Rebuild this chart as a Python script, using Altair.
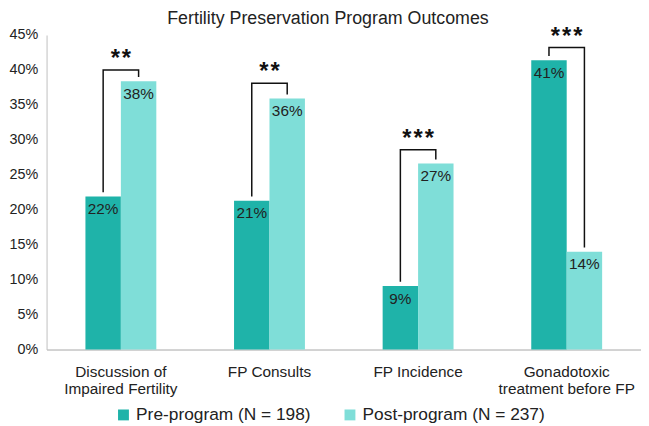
import altair as alt
import pandas as pd

categories = ["Discussion of Impaired Fertility", "FP Consults", "FP Incidence", "Gonadotoxic treatment before FP"]
cat_lines = [["Discussion of", "Impaired Fertility"], ["FP Consults"], ["FP Incidence"], ["Gonadotoxic", "treatment before FP"]]
series = ["Pre-program (N = 198)", "Post-program (N = 237)"]
pre_values = [21.9, 21.3, 9.1, 41.4]
post_values = [38.4, 35.9, 26.6, 14.0]
pre_labels = ["22%", "21%", "9%", "41%"]
post_labels = ["38%", "36%", "27%", "14%"]
bracket_top = [40.0, 38.1, 28.6, 43.2]
stars = ["**", "**", "***", "***"]
y_ticks = [0, 5, 10, 15, 20, 25, 30, 35, 40, 45]
gap = 0.6

colors = ["#1fb3a9", "#7fded8"]
FONT = "Liberation Sans"

rows = []
for i, c in enumerate(categories):
    rows.append({"cat": c, "series": series[0], "value": pre_values[i], "label": pre_labels[i]})
    rows.append({"cat": c, "series": series[1], "value": post_values[i], "label": post_labels[i]})
bars_df = pd.DataFrame(rows)

br = []
for i, c in enumerate(categories):
    pts = [(series[0], pre_values[i] + gap), (series[0], bracket_top[i]),
           (series[1], bracket_top[i]), (series[1], post_values[i] + gap)]
    for k, (s, v) in enumerate(pts):
        br.append({"cat": c, "series": s, "value": v, "order": k, "grp": i})
br_df = pd.DataFrame(br)

star_df = pd.DataFrame({"cat": categories, "value": bracket_top,
                        "stars": ["\u200a".join(s) for s in stars]})

label_expr = "{" + ",".join(
    f"'{c}': [" + ",".join(f"'{l}'" for l in lines) + "]" for c, lines in zip(categories, cat_lines)
) + "}[datum.value]"

x = alt.X("cat:N", sort=categories, title=None,
          scale=alt.Scale(paddingInner=0.523, paddingOuter=0.2615),
          axis=alt.Axis(labelExpr=label_expr, labelAngle=0, labelFontSize=15.5, labelColor="#222",
                        labelPadding=15, ticks=False, domainColor="#a6a6a6", labelLineHeight=17,
                        labelFont=FONT))
xo = alt.XOffset("series:N", sort=series, scale=alt.Scale(paddingInner=0, paddingOuter=0))
y = alt.Y("value:Q", title=None,
          scale=alt.Scale(domain=[0, 45], nice=False),
          axis=alt.Axis(values=y_ticks, labelExpr="datum.value + '%'", labelOverlap=False,
                        grid=False, ticks=False, domainColor="#bfbfbf", labelFontSize=14.5,
                        labelColor="#222", labelPadding=9, labelFont=FONT))

bars = alt.Chart(bars_df).mark_bar().encode(
    x=x, xOffset=xo, y=y,
    color=alt.Color("series:N", sort=series, scale=alt.Scale(domain=series, range=colors),
                    legend=alt.Legend(title=None, orient="none", direction="horizontal",
                                      legendX=69, legendY=375, symbolType="square",
                                      symbolSize=121, symbolStrokeWidth=0, labelFontSize=17.5,
                                      labelColor="#222", labelFont=FONT, labelLimit=400,
                                      columnPadding=30, symbolOffset=0, labelOffset=4)),
)

labels = alt.Chart(bars_df).mark_text(baseline="top", dy=6, fontSize=15.5, color="#222",
                                      font=FONT).encode(
    x=x, xOffset=xo, y=y, text="label:N",
)

brackets = alt.Chart(br_df).mark_line(color="#111", strokeWidth=1.5).encode(
    x=x, xOffset=xo, y=y, order="order:Q", detail="grp:N",
)

star_text = alt.Chart(star_df).mark_text(baseline="middle", dy=-11, fontSize=24, fontWeight="bold",
                                         color="#111", font=FONT).encode(
    x=x, y=y, text="stars:N",
)

chart = alt.layer(bars, labels, brackets, star_text).properties(
    width=601, height=318,
    title=alt.Title("Fertility Preservation Program Outcomes", fontSize=18, fontWeight="normal",
                    color="#222", font=FONT, anchor="middle", offset=-3, dx=-16),
    autosize=alt.AutoSizeParams(type="none"),
    padding={"left": 39, "top": 25, "right": 0, "bottom": 75},
    background="white",
).configure_view(stroke=None).configure_axisY(labelOverlap=False)

chart.save("out.html", embed_options={"renderer": "svg", "actions": False})
